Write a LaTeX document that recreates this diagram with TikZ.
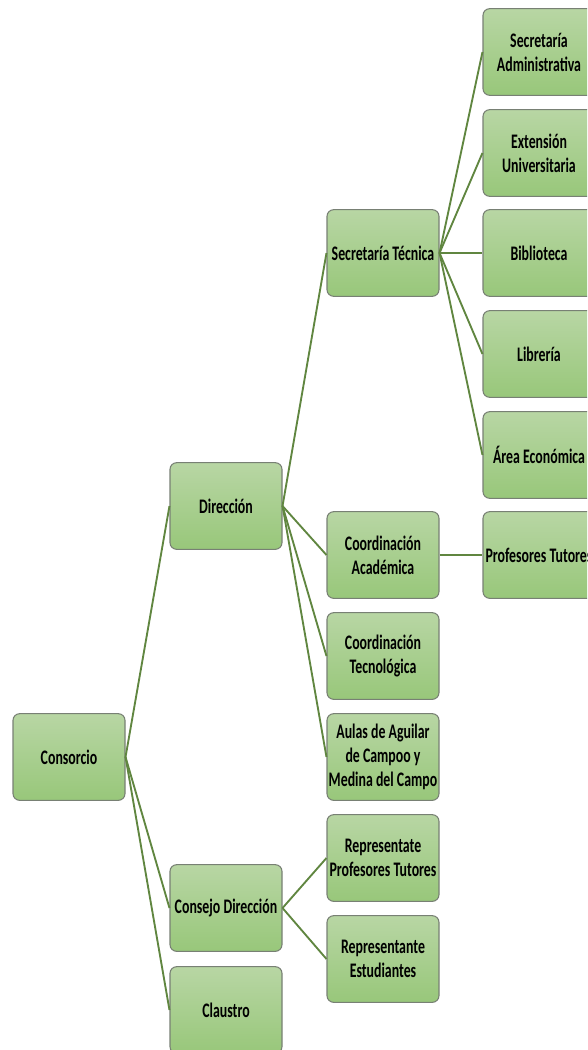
\documentclass[tikz,border=0pt]{standalone}
\usepackage{fontspec}
\setmainfont{Carlito}[FakeStretch=0.67]
\usepackage{tikz}

\definecolor{boxtop}{RGB}{184,214,164}
\definecolor{boxbottom}{RGB}{152,199,122}
\definecolor{boxline}{RGB}{120,128,116}
\definecolor{linkgreen}{RGB}{96,134,64}

\begin{document}
\begin{tikzpicture}[x=0.75pt,y=0.75pt,yscale=-1,xscale=1,
  unit/.style={draw=boxline,line width=0.8pt,rounded corners=5pt,
    top color=boxtop,bottom color=boxbottom,
    minimum width=84pt,minimum height=65pt,inner sep=1pt,align=center,
    font=\fontsize{15.5}{18}\selectfont\bfseries},
  link/.style={draw=linkgreen,line width=1.4pt}]
\useasboundingbox (0,0) rectangle (587,1050);
\clip (0,0) rectangle (587,1050);

% first and second level
\node[unit] (consorcio) at (69,757) {Consorcio};
\node[unit] (direccion) at (226,506) {Dirección};
\node[unit] (consejo) at (226,908) {Consejo Dirección};
\node[unit] (claustro) at (226,1010) {Claustro};

% third level
\node[unit] (sectecnica) at (383,253) {Secretaría Técnica};
\node[unit] (coordacad) at (383,555) {Coordinación\\Académica};
\node[unit] (coordtec) at (383,656) {Coordinación\\Tecnológica};
\node[unit] (aulas) at (383,757) {Aulas de Aguilar\\de Campoo y\\Medina del Campo};
\node[unit] (repprof) at (383,858) {Representate\\Profesores Tutores};
\node[unit] (repest) at (383,959) {Representante\\Estudiantes};

% fourth level
\node[unit] (secadmin) at (539,52) {Secretaría\\Administrativa};
\node[unit] (extension) at (539,153) {Extensión\\Universitaria};
\node[unit] (biblioteca) at (539,253) {Biblioteca};
\node[unit] (libreria) at (539,354) {Librería};
\node[unit] (economica) at (539,455) {Área Económica};
\node[unit] (tutores) at (539,555) {Profesores Tutores};

% connectors
\foreach \child in {direccion,consejo,claustro}
  \draw[link] (consorcio.east) -- (\child.west);
\foreach \child in {sectecnica,coordacad,coordtec,aulas}
  \draw[link] (direccion.east) -- (\child.west);
\foreach \child in {secadmin,extension,biblioteca,libreria,economica}
  \draw[link] (sectecnica.east) -- (\child.west);
\draw[link] (coordacad.east) -- (tutores.west);
\draw[link] (consejo.east) -- (repprof.west);
\draw[link] (consejo.east) -- (repest.west);

\end{tikzpicture}
\end{document}
